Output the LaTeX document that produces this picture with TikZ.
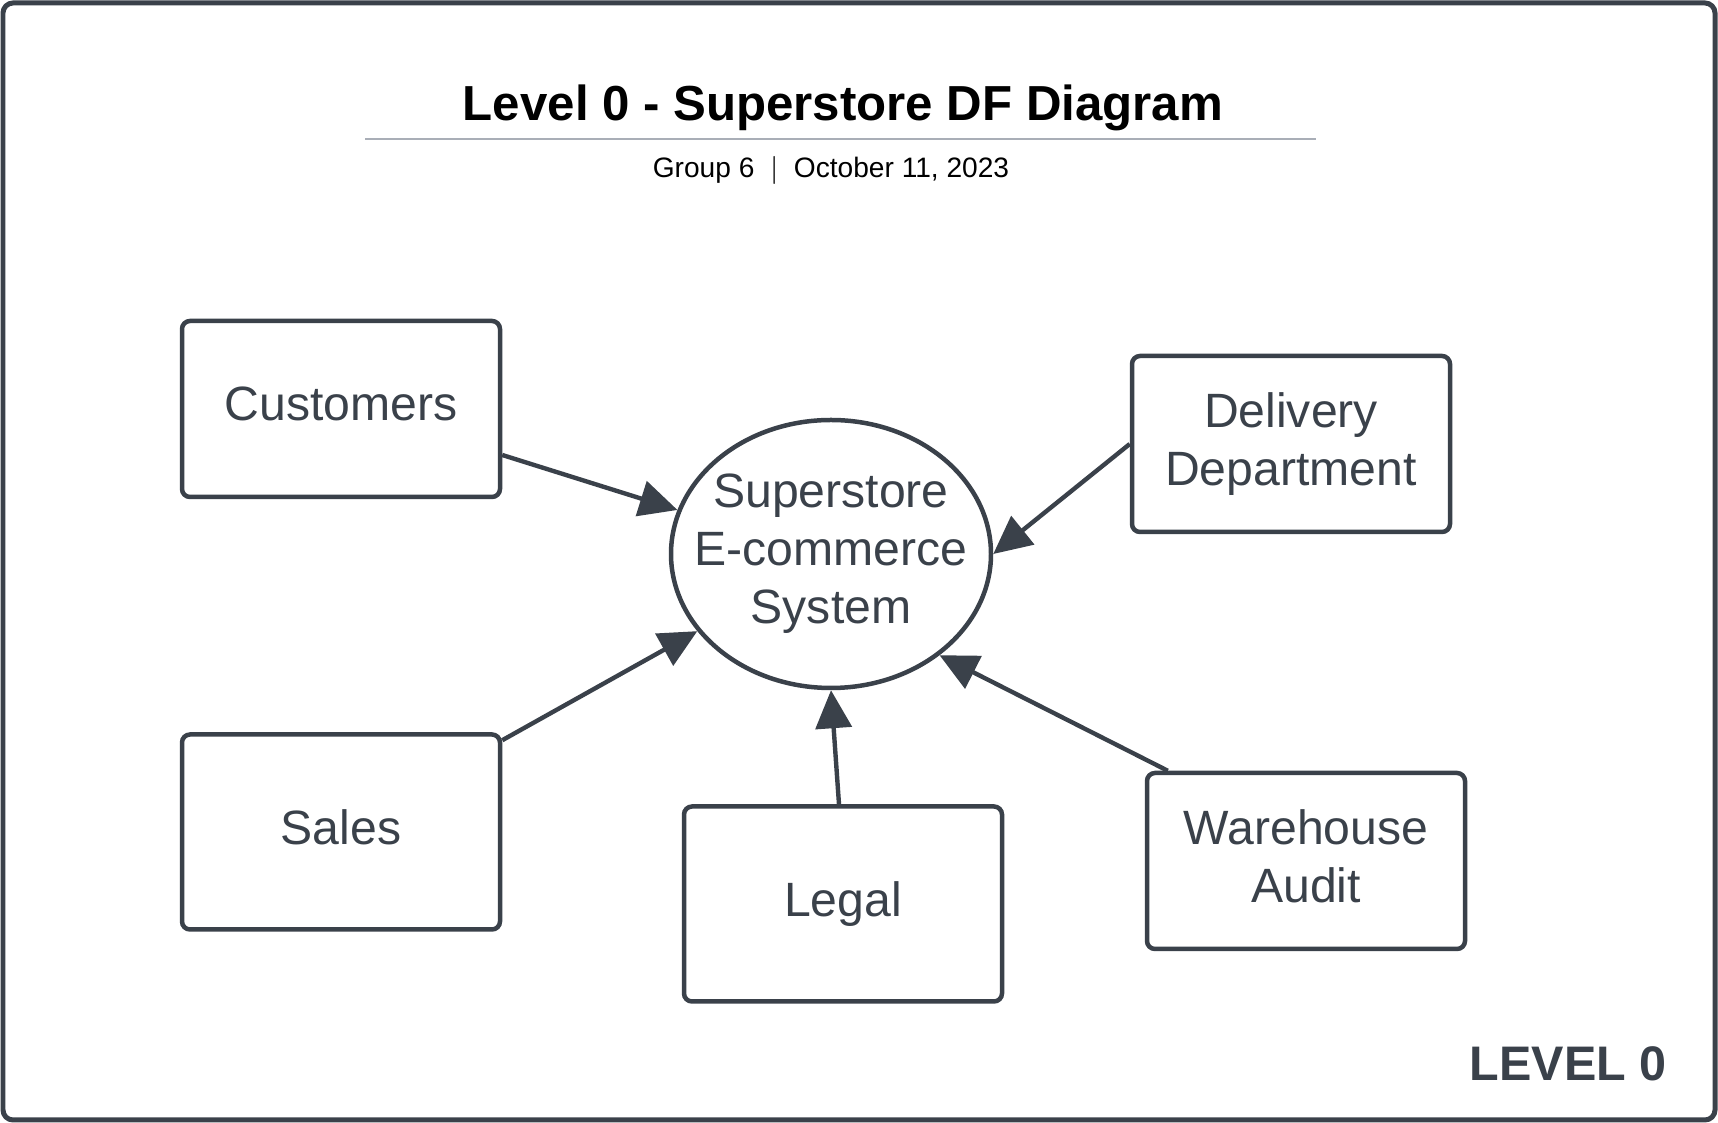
\documentclass[tikz,border=0pt]{standalone}
\usepackage{fontspec}
\setmainfont{Liberation Sans}
\usetikzlibrary{arrows.meta,shapes.geometric}
\definecolor{linegray}{HTML}{3A414A}
\definecolor{rulegray}{HTML}{A9AEB7}

\begin{document}
\begin{tikzpicture}[x=0.1mm, y=-0.1mm,
	entity/.style={draw=linegray, line width=0.45mm, rounded corners=0.8mm, minimum width=31.8mm, minimum height=17.6mm, inner sep=0pt, text=linegray, align=center, font=\fontsize{13.7}{16.5}\selectfont, execute at end node=\vphantom{g}},
	process/.style={ellipse, draw=linegray, line width=0.45mm, minimum width=32mm, minimum height=26.8mm, inner xsep=-2.5mm, inner ysep=0pt, text=linegray, align=center, font=\fontsize{13.7}{16.5}\selectfont},
	flow/.style={-{Triangle[length=3.8mm, width=3.6mm]}, draw=linegray, line width=0.44mm}]
			\useasboundingbox (0,0) rectangle (1718,1123);
			\draw[linegray, line width=0.5mm, rounded corners=1mm] (3,3) rectangle (1715,1120); % cornice

			% titolo
			\node[font=\fontsize{14}{17}\bfseries\selectfont] (title) at (843,108) {Level 0 - Superstore DF Diagram};
			\draw[rulegray, line width=0.25mm] (365,139) -- (1316,139);
			\node[font=\fontsize{8}{10}\selectfont] (subtitle) at (831,170) {Group 6 \ $|$ \ October 11, 2023};

			\node[process] (sys) at (831,554) {Superstore\\E-commerce\\System};

			\node[entity] (cust) at (341,409) {Customers};
			\node[entity, minimum height=19.5mm] (sales) at (341,832) {Sales};
			\node[entity, minimum height=19.5mm] (legal) at (843,904) {Legal};
			\node[entity] (dlv) at (1291,444) {Delivery\\Department};
			\node[entity] (wh) at (1306,861) {Warehouse\\Audit};

			\draw[flow] ([yshift=-4.6mm]cust.east) -- (sys.164.5); % da customers
			\draw[flow] (dlv.west) -- (sys.east);
			\draw[flow] ([yshift=-0.8mm]sales.north east) -- (sys.210.7);
			\draw[flow] ([xshift=-0.4mm]legal.north) -- (sys.south);
			\draw[flow] ([xshift=2.3mm]wh.north west) -- (sys.-43.3);

			\node[anchor=east, text=linegray, font=\fontsize{13.8}{16}\bfseries\selectfont] (lvl) at (1679,1064) {LEVEL 0};
\end{tikzpicture}
\end{document}
